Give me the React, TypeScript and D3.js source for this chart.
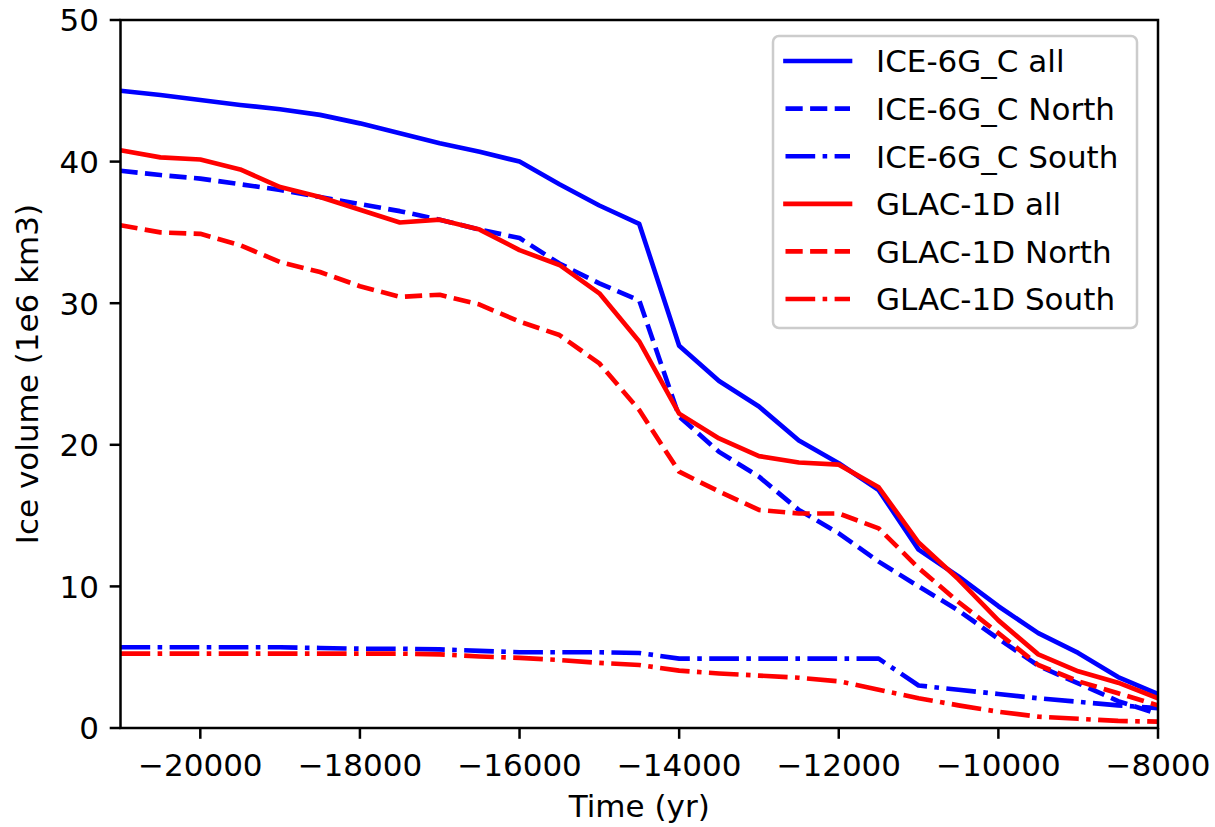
import React from "react";
import * as d3 from "d3";

const years = [-21000, -20500, -20000, -19500, -19000, -18500, -18000, -17500, -17000, -16500, -16000, -15500, -15000, -14500, -14000, -13500, -13000, -12500, -12000, -11500, -11000, -10500, -10000, -9500, -9000, -8500, -8000];

const iceAll = [45.0, 44.7, 44.35, 44.0, 43.7, 43.3, 42.7, 42.0, 41.3, 40.7, 40.0, 38.4, 36.9, 35.6, 27.0, 24.5, 22.7, 20.3, 18.7, 16.8, 12.6, 10.7, 8.6, 6.7, 5.3, 3.6, 2.4];
const iceNorth = [39.35, 39.05, 38.8, 38.4, 38.0, 37.5, 37.0, 36.5, 35.9, 35.2, 34.6, 32.8, 31.4, 30.2, 22.0, 19.5, 17.75, 15.4, 13.75, 11.75, 10.0, 8.3, 6.3, 4.4, 3.15, 1.9, 1.0];
const iceSouth = [5.7, 5.7, 5.7, 5.7, 5.7, 5.65, 5.6, 5.6, 5.55, 5.45, 5.35, 5.35, 5.35, 5.3, 4.9, 4.9, 4.9, 4.9, 4.9, 4.9, 3.0, 2.7, 2.4, 2.1, 1.85, 1.6, 1.4];
const glacAll = [40.8, 40.3, 40.15, 39.45, 38.2, 37.5, 36.6, 35.7, 35.9, 35.2, 33.75, 32.7, 30.7, 27.3, 22.2, 20.45, 19.2, 18.75, 18.6, 17.0, 13.1, 10.5, 7.6, 5.2, 4.0, 3.2, 2.1];
const glacNorth = [35.5, 35.0, 34.9, 34.1, 32.9, 32.2, 31.2, 30.45, 30.6, 29.9, 28.7, 27.75, 25.75, 22.45, 18.1, 16.7, 15.4, 15.15, 15.15, 14.1, 11.3, 8.9, 6.7, 4.45, 3.3, 2.45, 1.6];
const glacSouth = [5.25, 5.25, 5.25, 5.25, 5.25, 5.25, 5.25, 5.25, 5.2, 5.05, 4.95, 4.8, 4.6, 4.45, 4.05, 3.85, 3.7, 3.55, 3.3, 2.7, 2.1, 1.6, 1.15, 0.8, 0.65, 0.5, 0.45];

const seriesLabels = ["ICE-6G_C all", "ICE-6G_C North", "ICE-6G_C South", "GLAC-1D all", "GLAC-1D North", "GLAC-1D South"];
const seriesValues = [iceAll, iceNorth, iceSouth, glacAll, glacNorth, glacSouth];
const seriesColors = ["#0000ff", "#0000ff", "#0000ff", "#ff0000", "#ff0000", "#ff0000"];
const seriesStyles = ["solid", "dashed", "dashdot", "solid", "dashed", "dashdot"];

const xTicks = [-20000, -18000, -16000, -14000, -12000, -10000, -8000];
const yTicks = [0, 10, 20, 30, 40, 50];

const W = 1215;
const H = 827;
const L = 120.5;
const R = 1158;
const T = 20;
const B = 728;
const FS = 31;
const LW = 4.65;
const FONT = "DejaVu Sans, sans-serif";

const dashFor = (s: string) =>
  s === "dashed" ? "17.2 7.4" : s === "dashdot" ? "29.7 7.4 4.6 7.4" : undefined;

export default function App() {
  const x = d3.scaleLinear().domain([-21000, -8000]).range([L, R]);
  const y = d3.scaleLinear().domain([0, 50]).range([B, T]);
  const line = d3
    .line<number>()
    .x((_, i) => x(years[i]))
    .y((d) => y(d));

  const fmt = (v: number) => (v < 0 ? "\u2212" + Math.abs(v) : String(v));

  const legX = 773;
  const legY = 36;
  const legW = 364;
  const legH = 292;
  const rowY0 = 61;
  const rowStep = 47.6;

  return (
    <svg
      width={W}
      height={H}
      style={{ position: "absolute", left: 0, top: 0, background: "#fff" }}
      fontFamily={FONT}
    >
      <defs>
        <clipPath id="plotclip">
          <rect x={L} y={T} width={R - L} height={B - T} />
        </clipPath>
      </defs>
      <rect x={0} y={0} width={W} height={H} fill="#fff" />
      <g clipPath="url(#plotclip)">
        {seriesValues.map((vals, i) => (
          <path
            key={i}
            d={line(vals) || ""}
            fill="none"
            stroke={seriesColors[i]}
            strokeWidth={LW}
            strokeDasharray={dashFor(seriesStyles[i])}
            strokeLinejoin="round"
            strokeLinecap="butt"
          />
        ))}
      </g>
      {/* spines */}
      <rect x={L} y={T} width={R - L} height={B - T} fill="none" stroke="#000" strokeWidth={2.5} />
      {/* x ticks */}
      {xTicks.map((t) => (
        <g key={t}>
          <line x1={x(t)} x2={x(t)} y1={B} y2={B + 10.8} stroke="#000" strokeWidth={2.5} />
          <text x={x(t)} y={776} fontSize={FS} textAnchor="middle" fill="#000">
            {fmt(t)}
          </text>
        </g>
      ))}
      {/* y ticks */}
      {yTicks.map((t) => (
        <g key={t}>
          <line x1={L - 10.8} x2={L} y1={y(t)} y2={y(t)} stroke="#000" strokeWidth={2.5} />
          <text x={L - 21.6} y={y(t) + 11.3} fontSize={FS} textAnchor="end" fill="#000">
            {fmt(t)}
          </text>
        </g>
      ))}
      <text x={(L + R) / 2} y={817} fontSize={FS} textAnchor="middle" fill="#000">
        Time (yr)
      </text>
      <text
        transform={`translate(38, ${(T + B) / 2}) rotate(-90)`}
        fontSize={FS}
        textAnchor="middle"
        fill="#000"
      >
        Ice volume (1e6 km3)
      </text>
      {/* legend */}
      <rect
        x={legX}
        y={legY}
        width={legW}
        height={legH}
        rx={6}
        fill="#fff"
        fillOpacity={0.8}
        stroke="#cccccc"
        strokeWidth={2.5}
      />
      {seriesLabels.map((lab, i) => {
        const ry = rowY0 + i * rowStep;
        return (
          <g key={lab}>
            <line
              x1={785.5}
              x2={850}
              y1={ry}
              y2={ry}
              stroke={seriesColors[i]}
              strokeWidth={LW}
              strokeDasharray={dashFor(seriesStyles[i])}
              strokeLinecap={seriesStyles[i] === "solid" ? "square" : "butt"}
            />
            <text x={876} y={ry + 11.3} fontSize={FS} fill="#000">
              {lab}
            </text>
          </g>
        );
      })}
    </svg>
  );
}
